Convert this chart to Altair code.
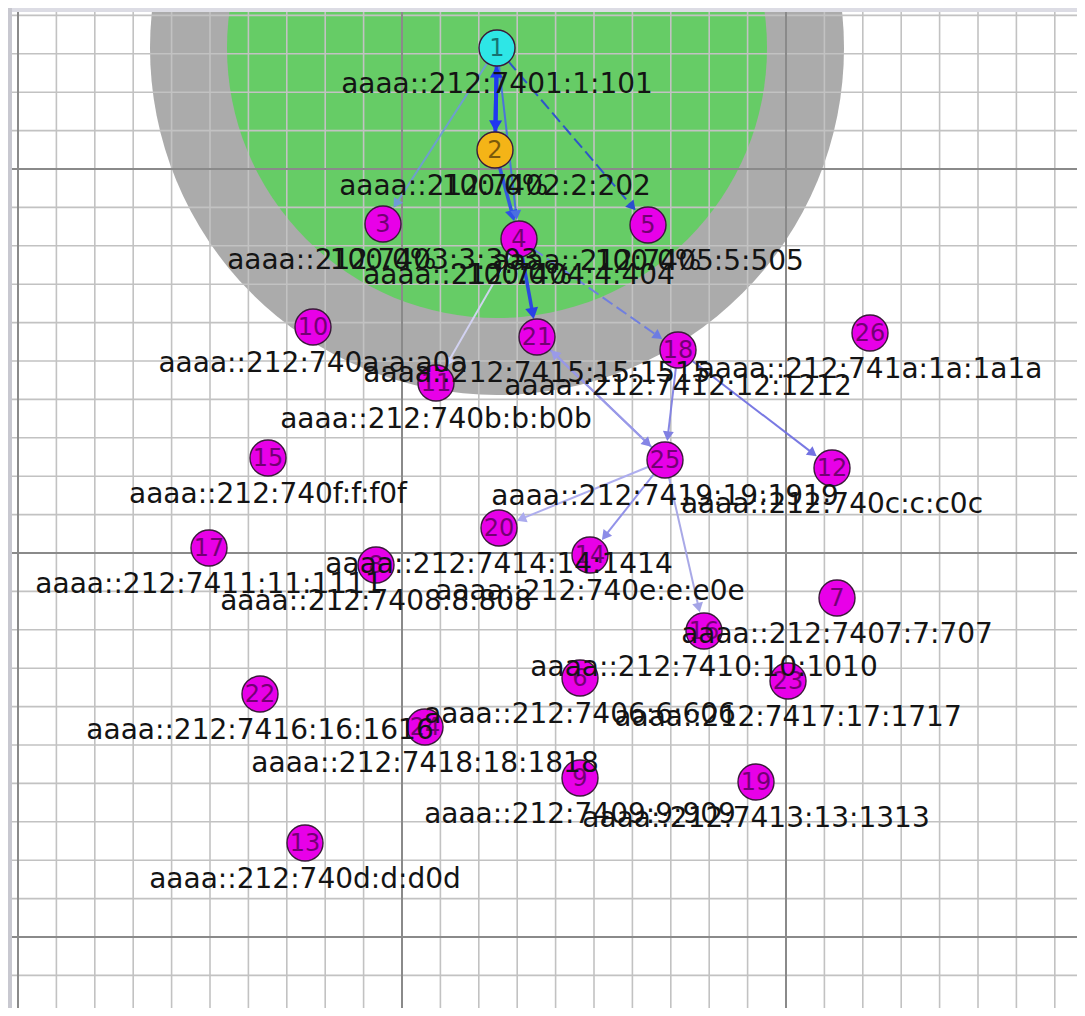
import math
import altair as alt
import pandas as pd

# ---------------- data (image pixel coords) ----------------
node_ids = [1, 2, 3, 4, 5, 6, 7, 8, 9, 10, 11, 12, 13, 14, 15, 16, 17, 18, 19, 20, 21, 22, 23, 24, 25, 26]
node_x = [497, 495, 383, 519, 648, 580, 837, 376, 580, 313, 436, 832, 305, 590, 268, 704, 209, 678, 756, 499, 537, 260, 788, 425, 665, 870]
node_y = [48, 150, 224, 239, 225, 678, 598, 565, 778, 327, 383, 468, 843, 555, 458, 631, 548, 350, 782, 528, 337, 694, 681, 727, 460, 333]
node_labels = [
    "aaaa::212:7401:1:101", "aaaa::212:7402:2:202", "aaaa::212:7403:3:303",
    "aaaa::212:7404:4:404", "aaaa::212:7405:5:505", "aaaa::212:7406:6:606",
    "aaaa::212:7407:7:707", "aaaa::212:7408:8:808", "aaaa::212:7409:9:909",
    "aaaa::212:740a:a:a0a", "aaaa::212:740b:b:b0b", "aaaa::212:740c:c:c0c",
    "aaaa::212:740d:d:d0d", "aaaa::212:740e:e:e0e", "aaaa::212:740f:f:f0f",
    "aaaa::212:7410:10:1010", "aaaa::212:7411:11:1111", "aaaa::212:7412:12:1212",
    "aaaa::212:7413:13:1313", "aaaa::212:7414:14:1414", "aaaa::212:7415:15:1515",
    "aaaa::212:7416:16:1616", "aaaa::212:7417:17:1717", "aaaa::212:7418:18:1818",
    "aaaa::212:7419:19:1919", "aaaa::212:741a:1a:1a1a",
]
node_fill = ["#2ee6e6", "#f4b417"] + ["#e800e8"] * 24

percent_nodes = [2, 3, 4, 5]
percent_text = ["100.0%", "100.0%", "100.0%", "100.0%"]

edge_src = [1, 2, 1, 1, 2, 1, 4, 4, 4, 21, 25, 18, 18, 25, 25, 25]
edge_dst = [2, 1, 3, 5, 4, 4, 21, 18, 11, 25, 21, 25, 12, 20, 14, 16]
edge_color = ["#2038f0", "#2038f0", "#6f9bd6", "#2b4fcf", "#3050e6", "#4a6fe0",
              "#2a40e6", "#6d7ce2", "#d4d4f4", "#8585e6", "#9a9ae8", "#8080e2",
              "#7272e2", "#aaaaee", "#8c8ce8", "#a4a4e6"]
edge_width = [4, 4, 2, 2, 3.5, 2, 3.5, 2, 2, 2, 2, 2, 2, 2, 2, 2]
edge_dashed = [False, False, False, True, False, False, False, True, False,
               False, False, False, False, False, False, False]

tx_range_r = 270      # green circle radius (px)
int_range_r = 347     # gray circle radius (px)

# ---------------- layout / style ----------------
W, H = 1069, 1000
X0, Y0 = 8, 8
NODE_R = 18
GRID_STEP = 38.4
GRID_X0, GRID_Y0 = 18, 169
FONT = "DejaVu Sans"

xs = alt.Scale(domain=[X0, X0 + W], nice=False, zero=False)
ys = alt.Scale(domain=[Y0, Y0 + H], nice=False, zero=False, reverse=True)


def ex(f="x"):
    return alt.X(f, type="quantitative", scale=xs, axis=None)


def ey(f="y"):
    return alt.Y(f, type="quantitative", scale=ys, axis=None)


nodes = pd.DataFrame({"id": node_ids, "x": node_x, "y": node_y,
                      "label": node_labels, "fill": node_fill})
nodes["num"] = nodes["id"].astype(str)
pos = {i: (x, y) for i, x, y in zip(node_ids, node_x, node_y)}

# range circles around the selected mote (mote 1)
cx, cy = pos[1]
ranges_gray = pd.DataFrame({"x": [cx], "y": [cy], "s": [(2 * int_range_r) ** 2]})
ranges_green = pd.DataFrame({"x": [cx], "y": [cy], "s": [(2 * tx_range_r) ** 2]})

# grid
gx_minor = [GRID_X0 + GRID_STEP * k for k in range(0, 28)]
gy_minor = [GRID_Y0 + GRID_STEP * k for k in range(-4, 22)]
gx_major = [GRID_X0 + GRID_STEP * k for k in (0, 10, 20)]
gy_major = [GRID_Y0 + GRID_STEP * k for k in (0, 10, 20)]

vmin = pd.DataFrame({"x": gx_minor})
hmin = pd.DataFrame({"y": gy_minor})
vmaj = pd.DataFrame({"x": gx_major})
hmaj = pd.DataFrame({"y": gy_major})

# edges
rows = []
for s, t, c, w, d in zip(edge_src, edge_dst, edge_color, edge_width, edge_dashed):
    sx, sy = pos[s]
    tx, ty = pos[t]
    L = math.hypot(tx - sx, ty - sy)
    ux, uy = (tx - sx) / L, (ty - sy) / L
    rows.append(dict(
        x=sx, y=sy,
        x2=tx - ux * (NODE_R + 4), y2=ty - uy * (NODE_R + 4),
        hx=tx - ux * (NODE_R + 6), hy=ty - uy * (NODE_R + 6),
        angle=math.degrees(math.atan2(ux, -uy)) % 360,
        color=c, w=w, hs=170 if w > 3 else 120, dashed=d))
edges = pd.DataFrame(rows)

pct = pd.DataFrame({"x": [pos[i][0] for i in percent_nodes],
                    "y": [pos[i][1] for i in percent_nodes],
                    "t": percent_text})

# ---------------- layers ----------------
gray_c = alt.Chart(ranges_gray).mark_point(filled=True, shape="circle", clip=True,
                                           color="#ababab", opacity=1, strokeWidth=0).encode(
    x=ex(), y=ey(), size=alt.Size("s:Q", scale=None))
green_c = alt.Chart(ranges_green).mark_point(filled=True, shape="circle", clip=True,
                                             color="#66cc66", opacity=1, strokeWidth=0).encode(
    x=ex(), y=ey(), size=alt.Size("s:Q", scale=None))

v_minor = alt.Chart(vmin).mark_rule(color="#c2c2c2", strokeWidth=1.6).encode(
    x=ex(), y=alt.value(0), y2=alt.value(H))
h_minor = alt.Chart(hmin).mark_rule(color="#c2c2c2", strokeWidth=1.6).encode(
    y=ey(), x=alt.value(0), x2=alt.value(W))
v_major = alt.Chart(vmaj).mark_rule(color="#8a8a8a", strokeWidth=2).encode(
    x=ex(), y=alt.value(0), y2=alt.value(H))
h_major = alt.Chart(hmaj).mark_rule(color="#8a8a8a", strokeWidth=2).encode(
    y=ey(), x=alt.value(0), x2=alt.value(W))

frame_top = alt.Chart(pd.DataFrame({"k": [0]})).mark_rect(color="#dcdce4").encode(
    x=alt.value(0), x2=alt.value(W), y=alt.value(0), y2=alt.value(4))
frame_left = alt.Chart(pd.DataFrame({"k": [0]})).mark_rect(color="#c8c8d0").encode(
    x=alt.value(0), x2=alt.value(4), y=alt.value(0), y2=alt.value(H))

edge_solid = alt.Chart(edges).transform_filter("!datum.dashed").mark_rule(opacity=0.95).encode(
    x=ex(), y=ey(), x2="x2", y2="y2",
    color=alt.Color("color:N", scale=None),
    strokeWidth=alt.StrokeWidth("w:Q", scale=None))
edge_dash = alt.Chart(edges).transform_filter("datum.dashed").mark_rule(
    opacity=0.95, strokeDash=[12, 5]).encode(
    x=ex(), y=ey(), x2="x2", y2="y2",
    color=alt.Color("color:N", scale=None),
    strokeWidth=alt.StrokeWidth("w:Q", scale=None))
heads = alt.Chart(edges).mark_point(shape="triangle-up", filled=True, opacity=1).encode(
    x=ex("hx"), y=ey("hy"),
    angle=alt.Angle("angle:Q", scale=None),
    color=alt.Color("color:N", scale=None),
    size=alt.Size("hs:Q", scale=None))

node_marks = alt.Chart(nodes).mark_point(shape="circle", filled=True, opacity=1,
                                         stroke="#3a1a3a", strokeWidth=1.4).encode(
    x=ex(), y=ey(), fill=alt.Fill("fill:N", scale=None),
    size=alt.value((2 * NODE_R) ** 2))
node_nums = alt.Chart(nodes).mark_text(font=FONT, fontSize=24, color="#000000", opacity=0.5,
                                       baseline="middle", align="center", dy=1).encode(
    x=ex(), y=ey(), text="num:N")
labels = alt.Chart(nodes).mark_text(font=FONT, fontSize=28, color="#141414",
                                    baseline="alphabetic", align="center", dy=45).encode(
    x=ex(), y=ey(), text="label:N")
pct_marks = alt.Chart(pct).mark_text(font=FONT, fontSize=28, color="#141414",
                                     baseline="alphabetic", align="center", dy=45).encode(
    x=ex(), y=ey(), text="t:N")

chart = alt.layer(
    gray_c, green_c, v_minor, h_minor, v_major, h_major, frame_top, frame_left,
    edge_solid, edge_dash, heads, node_marks, node_nums, labels, pct_marks
).properties(
    width=W, height=H, padding=0, autosize=alt.AutoSizeParams(type="none"),
    background="white"
).configure_view(stroke=None)

chart.save("out.html", embed_options={"renderer": "svg", "actions": False})
